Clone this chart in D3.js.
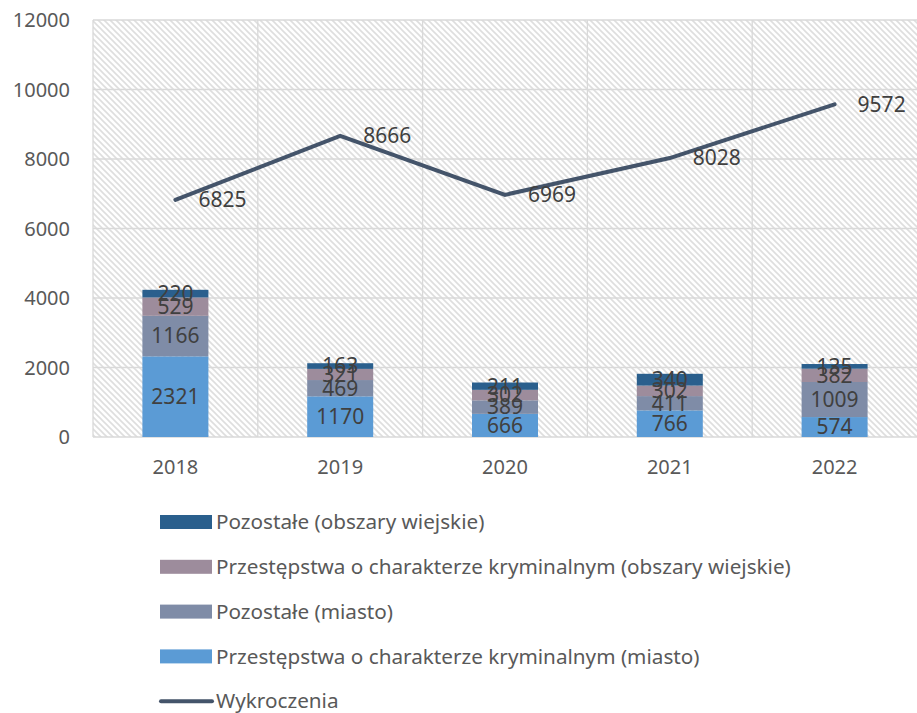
<!DOCTYPE html>
<html>
<head>
<meta charset="utf-8">
<script src="https://cdn.jsdelivr.net/npm/d3@7"></script>
<style>
  body { margin: 0; background: #fff; }
  svg { font-family: "Noto Sans", "Open Sans", sans-serif; }
</style>
</head>
<body>
<svg id="chart" width="917" height="713"></svg>
<script>
var years = ['2018', '2019', '2020', '2021', '2022'];
var miastoKryminalne = [2321, 1170, 666, 766, 574];
var miastoPozostale = [1166, 469, 389, 411, 1009];
var wiesKryminalne = [529, 321, 302, 302, 382];
var wiesPozostale = [220, 163, 211, 340, 135];
var wykroczenia = [6825, 8666, 6969, 8028, 9572];
var yTicks = [0, 2000, 4000, 6000, 8000, 10000, 12000];

var series = [
  { name: 'Przestępstwa o charakterze kryminalnym (miasto)', values: miastoKryminalne, color: '#5b9bd5' },
  { name: 'Pozostałe (miasto)', values: miastoPozostale, color: '#7f8ca7' },
  { name: 'Przestępstwa o charakterze kryminalnym (obszary wiejskie)', values: wiesKryminalne, color: '#9d8c9c' },
  { name: 'Pozostałe (obszary wiejskie)', values: wiesPozostale, color: '#2a5f8d' }
];
var lineColor = '#44546a';

var svg = d3.select('#chart');
var plotLeft = 93, plotRight = 917, plotTop = 20, plotBottom = 437;

var x = d3.scaleBand().domain(years).range([plotLeft, plotRight]);
var y = d3.scaleLinear().domain([0, 12000]).range([plotBottom, plotTop]);

var defs = svg.append('defs');
var pat = defs.append('pattern')
  .attr('id', 'hatch')
  .attr('width', 6).attr('height', 6)
  .attr('patternUnits', 'userSpaceOnUse');
pat.append('rect').attr('width', 6).attr('height', 6).attr('fill', '#fff');
pat.append('path')
  .attr('d', 'M-1,-1 L7,7 M-1,5 L1,7 M5,-1 L7,1')
  .attr('stroke', '#dedede').attr('stroke-width', 1.6);

svg.append('rect')
  .attr('x', plotLeft).attr('y', plotTop)
  .attr('width', plotRight - plotLeft).attr('height', plotBottom - plotTop)
  .attr('fill', 'url(#hatch)');

// grid
svg.append('g').selectAll('line')
  .data(yTicks)
  .enter().append('line')
  .attr('x1', plotLeft).attr('x2', plotRight)
  .attr('y1', function(d){ return y(d); })
  .attr('y2', function(d){ return y(d); })
  .style('stroke', '#d9d9d9').style('stroke-width', '1.3px');

svg.append('g').selectAll('line')
  .data(years)
  .enter().append('line')
  .attr('x1', function(d){ return x(d); })
  .attr('x2', function(d){ return x(d); })
  .attr('y1', plotTop).attr('y2', plotBottom)
  .style('stroke', '#d9d9d9').style('stroke-width', '1.3px');

// y axis labels
svg.append('g').selectAll('text')
  .data(yTicks)
  .enter().append('text')
  .attr('x', 70)
  .attr('y', function(d){ return y(d); })
  .attr('dy', '0.35em')
  .attr('text-anchor', 'end')
  .style('font-size', '20px')
  .style('fill', '#595959')
  .text(function(d){ return d; });

// x axis labels
svg.append('g').selectAll('text')
  .data(years)
  .enter().append('text')
  .attr('x', function(d){ return x(d) + x.bandwidth() / 2; })
  .attr('y', 467)
  .attr('dy', '0.35em')
  .attr('text-anchor', 'middle')
  .style('font-size', '20px')
  .style('fill', '#595959')
  .text(function(d){ return d; });

// stacked bars
var barW = 66;
var stackRows = years.map(function(yr, i){
  var r = { year: yr };
  series.forEach(function(s, j){ r['s' + j] = s.values[i]; });
  return r;
});
var stack = d3.stack().keys(series.map(function(s, j){ return 's' + j; }))(stackRows);

var layers = svg.append('g').selectAll('g')
  .data(stack)
  .enter().append('g')
  .style('fill', function(d, j){ return series[j].color; });

layers.selectAll('rect')
  .data(function(d){ return d; })
  .enter().append('rect')
  .attr('x', function(d){ return x(d.data.year) + x.bandwidth() / 2 - barW / 2; })
  .attr('width', barW)
  .attr('y', function(d){ return y(d[1]); })
  .attr('height', function(d){ return y(d[0]) - y(d[1]); });

var labels = svg.append('g').selectAll('g')
  .data(stack)
  .enter().append('g');

labels.selectAll('text')
  .data(function(d){ return d; })
  .enter().append('text')
  .attr('x', function(d){ return x(d.data.year) + x.bandwidth() / 2; })
  .attr('y', function(d){ return (y(d[0]) + y(d[1])) / 2; })
  .attr('dy', '0.35em')
  .attr('text-anchor', 'middle')
  .style('font-size', '21px')
  .style('fill', '#404040')
  .text(function(d){ return d[1] - d[0]; });

// line
var line = d3.line()
  .x(function(d, i){ return x(years[i]) + x.bandwidth() / 2; })
  .y(function(d){ return y(d); });

svg.append('path')
  .datum(wykroczenia)
  .attr('d', line)
  .style('fill', 'none')
  .style('stroke', lineColor)
  .style('stroke-width', '4px')
  .style('stroke-linecap', 'round');

svg.append('g').selectAll('text')
  .data(wykroczenia)
  .enter().append('text')
  .attr('x', function(d, i){ return x(years[i]) + x.bandwidth() / 2 + 23; })
  .attr('y', function(d){ return y(d); })
  .attr('dy', '0.35em')
  .style('font-size', '21px')
  .style('fill', '#404040')
  .text(function(d){ return d; });

// legend
var legendItems = series.slice().reverse().map(function(s){ return { name: s.name, color: s.color, type: 'bar' }; });
legendItems.push({ name: 'Wykroczenia', color: lineColor, type: 'line' });

var lg = svg.append('g').selectAll('g')
  .data(legendItems)
  .enter().append('g')
  .attr('transform', function(d, i){ return 'translate(160,' + (522 + i * 44.8) + ')'; });

lg.filter(function(d){ return d.type === 'bar'; })
  .append('rect')
  .attr('x', 0).attr('y', -7)
  .attr('width', 52).attr('height', 14)
  .style('fill', function(d){ return d.color; });

lg.filter(function(d){ return d.type === 'line'; })
  .append('line')
  .attr('x1', 1).attr('x2', 52)
  .attr('y1', 0).attr('y2', 0)
  .style('stroke', function(d){ return d.color; })
  .style('stroke-width', '4px')
  .style('stroke-linecap', 'round');

lg.append('text')
  .attr('x', 56)
  .attr('y', 0)
  .attr('dy', '0.35em')
  .style('font-size', '20.7px')
  .style('fill', '#595959')
  .text(function(d){ return d.name; });
</script>
</body>
</html>
